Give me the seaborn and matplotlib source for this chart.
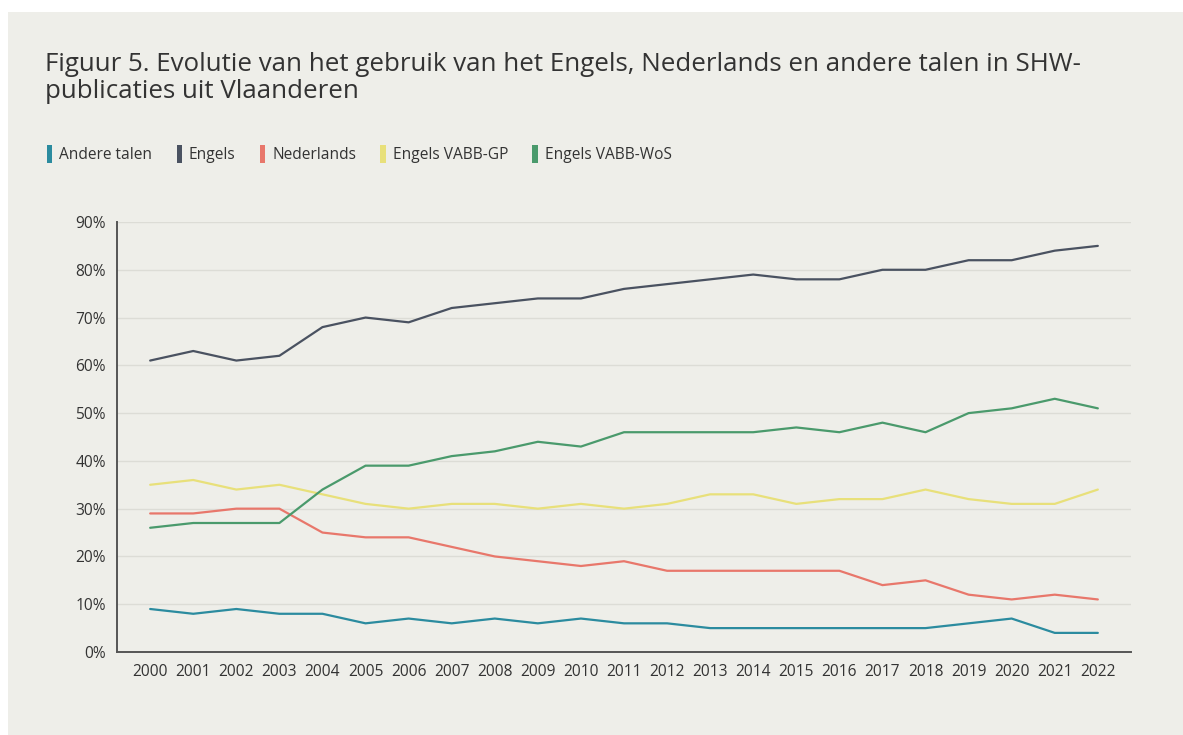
#!/usr/bin/env python3
"""
Figuur 5: evolutie van taalgebruik in SHW-publicaties uit Vlaanderen.
"""

import pandas as pd
import matplotlib.pyplot as plt
import matplotlib.patches as mpatches
from matplotlib.ticker import FuncFormatter
import seaborn as sns

years = list(range(2000, 2023))

andere_talen = [9, 8, 9, 8, 8, 6, 7, 6, 7, 6, 7, 6, 6, 5, 5, 5, 5, 5, 5, 6, 7, 4, 4]
engels = [61, 63, 61, 62, 68, 70, 69, 72, 73, 74, 74, 76, 77, 78, 79, 78, 78, 80, 80, 82, 82, 84, 85]
nederlands = [29, 29, 30, 30, 25, 24, 24, 22, 20, 19, 18, 19, 17, 17, 17, 17, 17, 14, 15, 12, 11, 12, 11]
engels_gp = [35, 36, 34, 35, 33, 31, 30, 31, 31, 30, 31, 30, 31, 33, 33, 31, 32, 32, 34, 32, 31, 31, 34]
engels_wos = [26, 27, 27, 27, 34, 39, 39, 41, 42, 44, 43, 46, 46, 46, 46, 47, 46, 48, 46, 50, 51, 53, 51]

series_names = ["Andere talen", "Engels", "Nederlands", "Engels VABB-GP", "Engels VABB-WoS"]
series_values = [andere_talen, engels, nederlands, engels_gp, engels_wos]
colors = ["#2b8b9f", "#4a5261", "#e8776b", "#e8e07a", "#4a9a6c"]

BG = "#eeeee9"
TEXT = "#333333"

sns.set_theme(style="white")
plt.rcParams["font.family"] = ["Open Sans", "DejaVu Sans"]

# long-form table for seaborn
df = pd.concat(
    [pd.DataFrame({"jaar": years, "aandeel": vals, "taal": name})
     for name, vals in zip(series_names, series_values)],
    ignore_index=True,
)

fig = plt.figure(figsize=(11.83, 7.35), dpi=100, facecolor="white")
# grey panel, leaving a thin white strip top and left
fig.patches.append(mpatches.Rectangle((8 / 1183, 0), 1, 1 - 12 / 735,
                                      transform=fig.transFigure,
                                      facecolor=BG, edgecolor="none", zorder=-10))

ax = fig.add_axes([117 / 1183, 1 - 652 / 735, (1131 - 117) / 1183, (652 - 222) / 735])
ax.set_facecolor(BG)

sns.lineplot(data=df, x="jaar", y="aandeel", hue="taal", hue_order=series_names,
             palette=colors, linewidth=1.6, ax=ax, legend=False)

ax.set_xlim(1999.23, 2022.77)
ax.set_ylim(0, 90)
ax.set_xticks([1999.23] + years + [2022.77])
ax.set_xticklabels([""] + [str(y) for y in years] + [""])
ax.set_yticks(range(0, 91, 10))
ax.yaxis.set_major_formatter(FuncFormatter(lambda v, _: f"{int(v)}%"))
ax.tick_params(axis="both", length=5, width=1.2, color="#555555",
               labelsize=11.2, labelcolor=TEXT, pad=3, direction="out")
ax.tick_params(axis="x", pad=4)
ax.set_xlabel("")
ax.set_ylabel("")

for side in ["top", "right"]:
    ax.spines[side].set_visible(False)
for side in ["left", "bottom"]:
    ax.spines[side].set_color("#555555")
    ax.spines[side].set_linewidth(1.4)

ax.yaxis.grid(True, color="#dcdcd6", linewidth=1)
ax.set_axisbelow(True)

# title
fig.text(45 / 1183, 1 - 52 / 735,
         "Figuur 5. Evolutie van het gebruik van het Engels, Nederlands en andere talen in SHW-\n"
         "publicaties uit Vlaanderen",
         fontsize=18.6, color=TEXT, va="top", ha="left", linespacing=1.1)

# legend row
handles = [mpatches.Patch(facecolor=c, edgecolor="none") for c in colors]
fig.legend(handles, series_names, loc="center left",
           bbox_to_anchor=(33 / 1183, 1 - 154 / 735), ncol=5, frameon=False,
           handlelength=0.35, handleheight=1.4, handletextpad=0.45,
           columnspacing=1.55, fontsize=11.2, labelcolor=TEXT)

plt.savefig("out.png", dpi=100, facecolor="white")
plt.close()
